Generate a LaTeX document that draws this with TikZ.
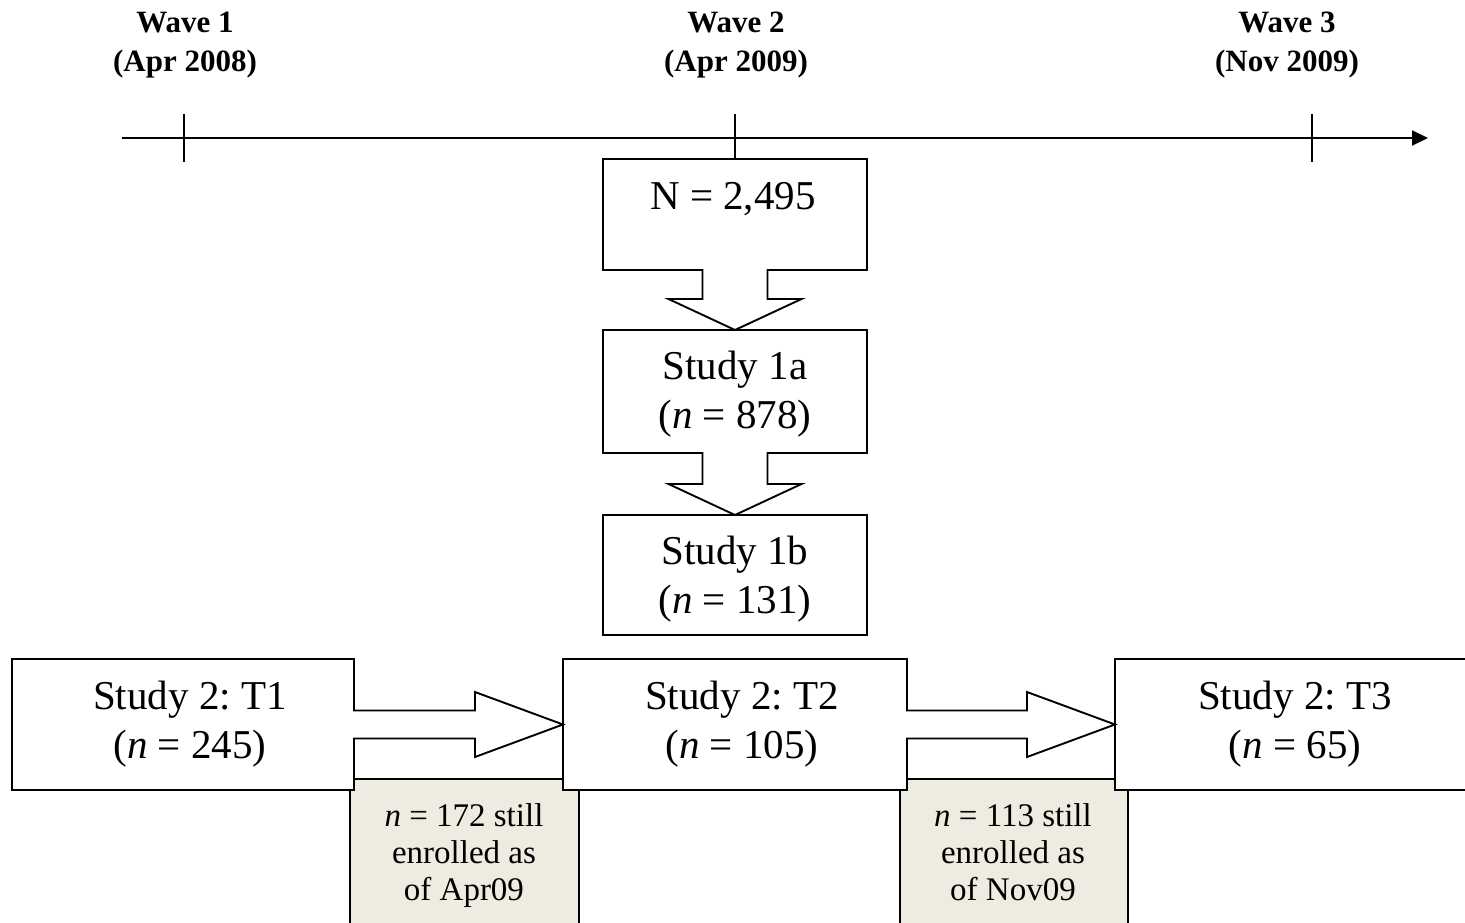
\documentclass[tikz,border=0pt]{standalone}
\usepackage{fontspec}
\setmainfont{Liberation Serif}
\usetikzlibrary{arrows.meta,calc}
\definecolor{notefill}{HTML}{EEECE1}
\frenchspacing
\begin{document}
\begin{tikzpicture}[x=1pt,y=-1pt,line width=1.9pt,line join=miter,
  box/.style={draw,fill=white,inner sep=0pt,outer sep=0pt},
  notebox/.style={draw,fill=notefill,inner sep=0pt,outer sep=0pt},
  boxtxt/.style={font=\fontsize{41}{49}\selectfont,align=center,inner sep=0pt,anchor=base},
  wavetxt/.style={font=\fontsize{31}{38}\selectfont\bfseries,inner sep=0pt,anchor=base},
  notetxt/.style={font=\fontsize{33}{37}\selectfont,align=center,inner sep=0pt,anchor=base}]
\useasboundingbox (0,0) rectangle (1465,923);
\fill[white] (0,0) rectangle (1465,923);

% timeline
\coordinate (tlS) at (122,138);
\coordinate (tlE) at (1428,138);
\draw[-{Triangle[length=16pt,width=15pt]}] (tlS) -- (tlE);
\coordinate (k1a) at (184,114); \coordinate (k1b) at (184,162);
\coordinate (k2a) at (735,114);
\coordinate (k3a) at (1312,114); \coordinate (k3b) at (1312,162);
\draw (k1a) -- (k1b);
\draw (k3a) -- (k3b);

% wave labels
\node[wavetxt] (w1a) at (185,33) {Wave 1};
\node[wavetxt] (w1b) at (185,72) {(Apr 2008)};
\node[wavetxt] (w2a) at (736,33) {Wave 2};
\node[wavetxt] (w2b) at (736,72) {(Apr 2009)};
\node[wavetxt] (w3a) at (1287,33) {Wave 3};
\node[wavetxt] (w3b) at (1287,72) {(Nov 2009)};

% note boxes (behind)
\node[notebox,minimum width=229pt,minimum height=151pt] (g1) at (464.5,854.5) {};
\node[notebox,minimum width=228pt,minimum height=151pt] (g2) at (1014,854.5) {};
\node[notetxt] (g1t) at (464,900) {\textit{n} = 172 still\\enrolled as\\of Apr09};
\node[notetxt] (g2t) at (1013,900) {\textit{n} = 113 still\\enrolled as\\of Nov09};

% main boxes
\node[box,minimum width=264pt,minimum height=111pt] (N) at (735,214.5) {};
\node[box,minimum width=264pt,minimum height=123pt] (s1a) at (735,391.5) {};
\node[box,minimum width=264pt,minimum height=120pt] (s1b) at (735,575) {};
\node[box,minimum width=342pt,minimum height=131pt] (t1) at (183,724.5) {};
\node[box,minimum width=344pt,minimum height=131pt] (t2) at (735,724.5) {};
\node[box,minimum width=360pt,minimum height=131pt] (t3) at (1295,724.5) {};

\draw (k2a) -- (N.north);

% down block arrows
\fill[white] ($(N.south)+(-32.5,-2)$) rectangle ($(N.south)+(32.5,29)$);
\draw ($(N.south)+(-32.5,-0.95)$) -- ++(0,29.95) -- ++(-34,0) -- (s1a.north)
  -- ($(N.south)+(66.5,29)$) -- ++(-34,0) -- ($(N.south)+(32.5,-0.95)$);
\fill[white] ($(s1a.south)+(-32.5,-2)$) rectangle ($(s1a.south)+(32.5,31)$);
\draw ($(s1a.south)+(-32.5,-0.95)$) -- ++(0,31.95) -- ++(-34,0) -- (s1b.north)
  -- ($(s1a.south)+(66.5,31)$) -- ++(-34,0) -- ($(s1a.south)+(32.5,-0.95)$);

% right block arrows
\fill[white] ($(t1.east)+(-2,-14)$) rectangle ($(t1.east)+(121,14)$);
\draw ($(t1.east)+(-0.95,-14)$) -- ++(121.95,0) -- ++(0,-18.5) -- (t2.west)
  -- ($(t1.east)+(121,32.5)$) -- ++(0,-18.5) -- ($(t1.east)+(-0.95,14)$);
\fill[white] ($(t2.east)+(-2,-14)$) rectangle ($(t2.east)+(120,14)$);
\draw ($(t2.east)+(-0.95,-14)$) -- ++(120.95,0) -- ++(0,-18.5) -- (t3.west)
  -- ($(t2.east)+(120,32.5)$) -- ++(0,-18.5) -- ($(t2.east)+(-0.95,14)$);

% box texts (base anchor = last line baseline)
\node[boxtxt] (Nt) at ($(N.north)+(-2,50)$) {N = 2,495};
\node[boxtxt] (s1at) at ($(s1a.north)+(0,98)$) {Study 1a\\(\textit{n} = 878)};
\node[boxtxt] (s1bt) at ($(s1b.north)+(0,98)$) {Study 1b\\(\textit{n} = 131)};
\node[boxtxt] (t1t) at ($(t1.north)+(7,99)$) {Study 2: T1\\(\textit{n} = 245)};
\node[boxtxt] (t2t) at ($(t2.north)+(7,99)$) {Study 2: T2\\(\textit{n} = 105)};
\node[boxtxt] (t3t) at ($(t3.north)+(0,99)$) {Study 2: T3\\(\textit{n} = 65)};
\end{tikzpicture}
\end{document}
